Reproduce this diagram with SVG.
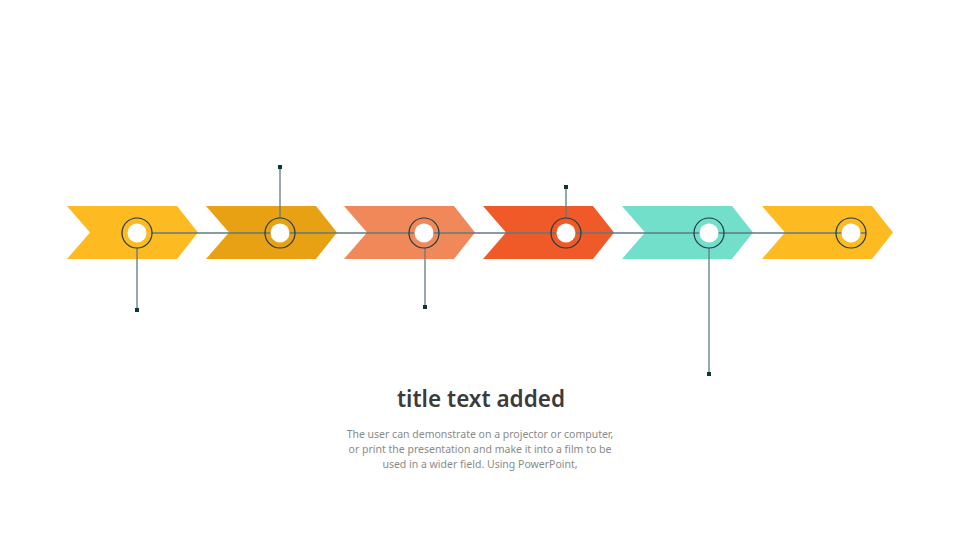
<svg xmlns="http://www.w3.org/2000/svg" width="960" height="540" viewBox="0 0 960 540">
<defs>
<style>
.ring{fill:none;stroke:#1f3c42;stroke-width:1.2}
.hole{fill:#fff}
.conn{stroke:#5e7b80;stroke-width:1.3;fill:none}
.dot{fill:#12353b}
.title{font-family:"Noto Sans","Open Sans",sans-serif;font-size:22.5px;font-weight:600;fill:#3b3b3b;text-anchor:middle}
.body{font-family:"Noto Sans","Open Sans",sans-serif;font-size:10.5px;fill:#8a8a8a;text-anchor:middle}
</style>
<path id="chev" d="M0,0 H110 L131,26.5 L110,53 H0 L23,26.5 Z"/>
</defs>
<rect width="960" height="540" fill="#fff"/>
<g id="node1"><use href="#chev" x="67" y="206" fill="#FDBA21"/></g>
<g id="node2"><use href="#chev" x="206" y="206" fill="#E8A112"/></g>
<g id="node3"><use href="#chev" x="344" y="206" fill="#F0885A"/></g>
<g id="node4"><use href="#chev" x="483" y="206" fill="#F05A28"/></g>
<g id="node5"><use href="#chev" x="622" y="206" fill="#72DFCB"/></g>
<g id="node6"><use href="#chev" x="762" y="206" fill="#FDBA21"/></g>
<g id="connectors">
<line class="conn" x1="152" y1="233" x2="866" y2="233"/>
<line class="conn" x1="137" y1="248" x2="137" y2="310"/>
<line class="conn" x1="280" y1="218" x2="280" y2="167"/>
<line class="conn" x1="425" y1="248" x2="425" y2="307"/>
<line class="conn" x1="566" y1="218" x2="566" y2="187"/>
<line class="conn" x1="709" y1="248" x2="709" y2="374"/>
<rect class="dot" x="135" y="308" width="4" height="4"/>
<rect class="dot" x="278" y="165" width="4" height="4"/>
<rect class="dot" x="423" y="305" width="4" height="4"/>
<rect class="dot" x="564" y="185" width="4" height="4"/>
<rect class="dot" x="707" y="372" width="4" height="4"/>
</g>
<g id="circles">
<circle class="ring" cx="137" cy="233" r="15"/><circle class="hole" cx="137" cy="233" r="9.5"/>
<circle class="ring" cx="280" cy="233" r="15"/><circle class="hole" cx="280" cy="233" r="9.5"/>
<circle class="ring" cx="424" cy="233" r="15"/><circle class="hole" cx="424" cy="233" r="9.5"/>
<circle class="ring" cx="566" cy="233" r="15"/><circle class="hole" cx="566" cy="233" r="9.5"/>
<circle class="ring" cx="709" cy="233" r="15"/><circle class="hole" cx="709" cy="233" r="9.5"/>
<circle class="ring" cx="851" cy="233" r="15"/><circle class="hole" cx="851" cy="233" r="9.5"/>
</g>
<g id="text">
<text class="title" x="481" y="407">title text added</text>
<text class="body" x="480" y="438">The user can demonstrate on a projector or computer,</text>
<text class="body" x="480" y="453">or print the presentation and make it into a film to be</text>
<text class="body" x="480" y="468">used in a wider field. Using PowerPoint,</text>
</g>
</svg>
